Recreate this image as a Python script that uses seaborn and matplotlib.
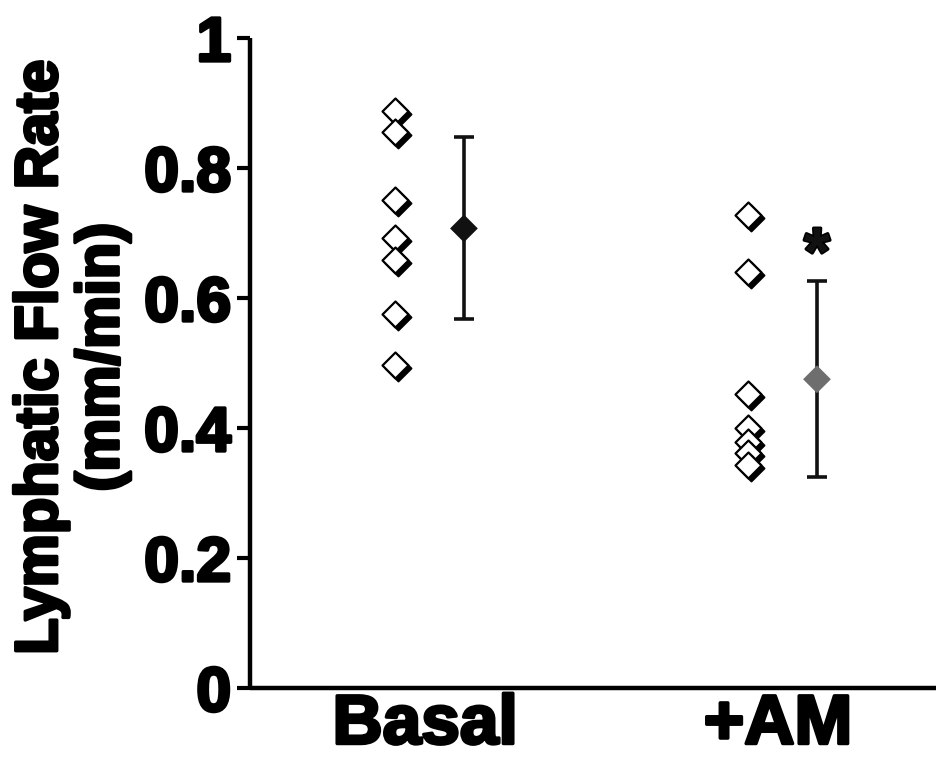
import matplotlib
matplotlib.use("Agg")
import matplotlib.pyplot as plt
import matplotlib.patheffects as pe
from matplotlib import transforms
import numpy as np
import pandas as pd
import seaborn as sns

# ---- data ----
groups = ["Basal", "+AM"]
basal_values = [0.887, 0.856, 0.751, 0.692, 0.658, 0.576, 0.497]
am_values = [0.728, 0.640, 0.453, 0.400, 0.379, 0.361, 0.343]
group_means = [0.707, 0.475]
group_sd = [0.140, 0.151]
mean_colors = ["#111111", "#6e6e6e"]
y_ticks = [0, 0.2, 0.4, 0.6, 0.8, 1.0]
y_tick_labels = ["0", "0.2", "0.4", "0.6", "0.8", "1"]
y_label = "Lymphatic Flow Rate\n(mm/min)"
significance = ["", "*"]

sns.set_theme(style="white")
plt.rcParams["font.family"] = ["Liberation Sans", "DejaVu Sans"]

fig = plt.figure(figsize=(9.37, 7.58), dpi=100)
W, H = 937, 758
ax = fig.add_axes([250 / W, (H - 688) / H, (W - 250) / W, (688 - 38) / H])

heavy = [pe.withStroke(linewidth=2.4, foreground="black")]

ind_off = -0.085
mean_off = 0.11

rows = []
for gi, vals in enumerate([basal_values, am_values]):
    for v in vals:
        rows.append({"group": groups[gi], "gx": gi + ind_off, "value": v})
df = pd.DataFrame(rows)

shadow_tr = transforms.offset_copy(ax.transData, fig=fig, x=3, y=-3, units="dots")
# draw each point (higher first so lower ones lie on top), shadow then open diamond
df_sorted = df.sort_values("value", ascending=False).reset_index(drop=True)
for i, r in df_sorted.iterrows():
    sub = df_sorted.iloc[[i]]
    sns.scatterplot(data=sub, x="gx", y="value", ax=ax, marker="D", s=175,
                    color="black", edgecolor="black", linewidth=1.4,
                    transform=shadow_tr, zorder=3 + 2 * i, legend=False)
    sns.scatterplot(data=sub, x="gx", y="value", ax=ax, marker="D", s=175,
                    color="white", edgecolor="black", linewidth=1.6,
                    zorder=4 + 2 * i, legend=False)

mdf = pd.DataFrame({"group": groups, "gx": [i + mean_off for i in range(len(groups))],
                    "mean": group_means, "sd": group_sd})
for i, r in mdf.iterrows():
    ax.errorbar(r["gx"], r["mean"], yerr=r["sd"], fmt="none", ecolor="#111111",
                elinewidth=2.6, capsize=7.5, capthick=2.6, zorder=30)
sns.scatterplot(data=mdf, x="gx", y="mean", hue="group", palette=mean_colors,
                marker="D", s=200, edgecolor="none", ax=ax, zorder=40, legend=False)

for i, r in mdf.iterrows():
    if significance[i]:
        ax.annotate(significance[i], (r["gx"], r["mean"] + r["sd"]), xytext=(0, -5),
                    textcoords="offset points", ha="center", va="bottom",
                    fontsize=48, fontweight="bold", color="#111111",
                    path_effects=heavy)

ax.set_xlim(-0.496, 1.45)
ax.set_ylim(0, 1.0)
ax.set_xticks([0, 1])
ax.set_xticklabels(groups)
ax.set_yticks(y_ticks)
ax.set_yticklabels(y_tick_labels)
ax.set_xlabel("")
ax.set_ylabel("")

for s in ["top", "right"]:
    ax.spines[s].set_visible(False)
for s in ["left", "bottom"]:
    ax.spines[s].set_linewidth(3.2)
    ax.spines[s].set_color("black")
    ax.spines[s].set_capstyle("butt")

ax.tick_params(axis="y", which="major", length=9.5, width=3, direction="out",
               color="black", pad=4, left=True)
ax.tick_params(axis="x", which="major", length=0, pad=4)
for lab in ax.get_yticklabels():
    lab.set_fontsize(45)
    lab.set_fontweight("bold")
    lab.set_color("black")
    lab.set_path_effects(heavy)
for lab in ax.get_xticklabels():
    lab.set_fontsize(50)
    lab.set_fontweight("bold")
    lab.set_color("black")
    lab.set_path_effects(heavy)

fig.text(72 / W, 1 - 357 / H, y_label, rotation=90, ha="center", va="center",
         fontsize=43, fontweight="bold", color="black", linespacing=1.15,
         path_effects=heavy)

fig.savefig("out.png", dpi=100, facecolor="white")
